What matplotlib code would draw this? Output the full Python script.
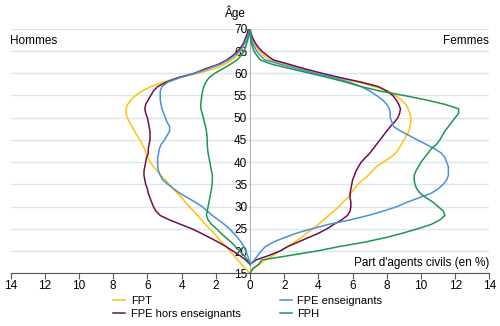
import matplotlib
matplotlib.use("Agg")
import matplotlib.pyplot as plt
import numpy as np

plt.rcParams['font.family'] = ['Liberation Sans', 'DejaVu Sans']

# ages 15 -> 70, part d'agents (en %), hommes en négatif
ages = list(range(15, 71))
nan = np.nan

fpt_h = [0, -0.25, -0.5, -0.72, -0.95, -1.17, -1.4, -1.65, -1.88, -2.1,
         -2.35, -2.6, -2.83, -3.07, -3.3, -3.55, -3.78, -4.0, -4.25, -4.5,
         -4.72, -4.95, -5.2, -5.42, -5.65, -5.85, -5.97, -6.07, -6.17, -6.3,
         -6.45, -6.6, -6.75, -6.9, -7.05, -7.18, -7.25, -7.25, -7.15, -6.95,
         -6.7, -6.3, -5.8, -5.1, -4.2, -3.05, -2.1, -1.5, -1.05, -0.75,
         -0.55, -0.4, -0.25, -0.15, -0.07, 0]
fpe_hors_h = [nan, nan, 0, -0.25, -0.6, -1.0, -1.4, -1.85, -2.35, -2.85,
              -3.4, -4.05, -4.7, -5.25, -5.5, -5.65, -5.75, -5.85, -5.95, -6.0,
              -6.1, -6.15, -6.2, -6.2, -6.15, -6.1, -6.05, -5.95, -5.95, -5.9,
              -5.85, -5.85, -5.85, -5.9, -5.95, -6.0, -6.1, -6.15, -6.1, -5.95,
              -5.8, -5.65, -5.4, -4.9, -4.2, -3.25, -2.6, -1.85, -1.35, -1.0,
              -0.7, -0.5, -0.35, -0.25, -0.15, -0.1]
fpe_ens_h = [nan, nan, 0, -0.06, -0.14, -0.24, -0.36, -0.52, -0.72, -0.95,
             -1.2, -1.5, -1.85, -2.2, -2.5, -2.8, -3.2, -3.65, -4.1, -4.45,
             -4.8, -5.1, -5.25, -5.35, -5.4, -5.4, -5.4, -5.35, -5.3, -5.2,
             -5.0, -4.85, -4.7, -4.7, -4.85, -4.95, -5.05, -5.15, -5.2, -5.25,
             -5.25, -5.25, -5.15, -4.8, -4.1, -3.2, -2.45, -1.75, -1.25, -0.9,
             -0.6, -0.42, -0.28, -0.17, -0.08, 0]
fph_h = [nan, nan, 0, -0.15, -0.35, -0.6, -0.85, -1.1, -1.4, -1.7,
         -1.95, -2.25, -2.45, -2.55, -2.5, -2.45, -2.4, -2.35, -2.3, -2.25,
         -2.22, -2.2, -2.2, -2.25, -2.3, -2.35, -2.4, -2.45, -2.48, -2.5,
         -2.5, -2.52, -2.55, -2.6, -2.67, -2.73, -2.8, -2.87, -2.88, -2.85,
         -2.82, -2.77, -2.7, -2.58, -2.4, -2.05, -1.6, -1.15, -0.75, -0.52,
         -0.35, -0.25, -0.17, -0.1, -0.05, 0]

fpt_f = [0, 0.2, 0.55, 0.9, 1.35, 1.75, 2.2, 2.6, 3.0, 3.3,
         3.7, 4.0, 4.3, 4.6, 4.9, 5.2, 5.45, 5.7, 5.9, 6.1,
         6.3, 6.6, 6.9, 7.15, 7.4, 7.8, 8.2, 8.5, 8.7, 8.85,
         9.0, 9.15, 9.3, 9.35, 9.4, 9.4, 9.35, 9.25, 9.1, 8.85,
         8.5, 8.1, 7.3, 6.3, 5.1, 4.0, 3.0, 2.1, 1.17, 0.8,
         0.55, 0.35, 0.2, 0.1, 0.04, 0]
fpe_hors_f = [nan, nan, 0, 0.35, 1.1, 1.75, 2.2, 2.8, 3.4, 4.0,
              4.5, 4.9, 5.35, 5.7, 5.85, 5.9, 5.9, 5.85, 5.85, 5.9,
              5.95, 6.0, 6.1, 6.2, 6.35, 6.5, 6.75, 7.0, 7.2, 7.4,
              7.6, 7.8, 8.0, 8.2, 8.45, 8.65, 8.75, 8.8, 8.7, 8.55,
              8.35, 8.0, 7.5, 6.5, 5.3, 4.2, 3.2, 2.3, 1.36, 1.0,
              0.68, 0.45, 0.28, 0.15, 0.06, 0]
fpe_ens_f = [nan, nan, 0, 0.25, 0.45, 0.65, 0.9, 1.35, 2.0, 2.7,
             3.6, 4.6, 5.85, 6.9, 7.8, 8.6, 9.2, 9.9, 10.6, 11.0,
             11.3, 11.5, 11.6, 11.6, 11.6, 11.5, 11.4, 11.2, 10.8, 10.3,
             9.8, 9.3, 8.8, 8.4, 8.3, 8.2, 8.2, 8.15, 8.0, 7.75,
             7.4, 7.0, 6.5, 5.8, 4.9, 3.8, 2.8, 1.8, 0.88, 0.6,
             0.39, 0.25, 0.14, 0.07, 0.03, 0]
fph_f = [0, 0.15, 0.5, 0.7, 2.3, 3.9, 5.2, 6.7, 7.9, 8.9,
         9.8, 10.6, 11.1, 11.4, 11.3, 11.0, 10.7, 10.3, 9.95, 9.75,
         9.65, 9.6, 9.6, 9.7, 9.85, 10.0, 10.2, 10.4, 10.6, 10.9,
         11.1, 11.25, 11.4, 11.6, 11.8, 12.0, 12.2, 12.2, 11.4, 10.3,
         9.0, 7.6, 6.5, 5.6, 4.6, 3.5, 2.4, 1.3, 0.6, 0.4,
         0.23, 0.14, 0.06, 0.03, 0.01, 0]

series = [
    ("FPT", fpt_h, fpt_f, "#FFC20E"),
    ("FPE hors enseignants", fpe_hors_h, fpe_hors_f, "#6E0F4C"),
    ("FPE enseignants", fpe_ens_h, fpe_ens_f, "#4A90D6"),
    ("FPH", fph_h, fph_f, "#1E9550"),
]

fig = plt.figure(figsize=(5.0, 3.26), dpi=100)
ax = fig.add_axes([0.0212, 0.1617, 0.9576, 0.75])

for nom, h, f, col in series:
    ax.plot(h, ages, color=col, lw=1.1, label=nom, zorder=3)
    ax.plot(f, ages, color=col, lw=1.1, zorder=3)

ax.set_xlim(-14, 14)
ax.set_ylim(15, 70)

xt = np.arange(-14, 15, 2)
ax.set_xticks(xt)
ax.set_xticklabels([str(abs(v)) for v in xt])
ax.tick_params(axis='x', direction='out', length=4, width=0.8, color='#555555',
               labelsize=8.5, pad=1)

ax.set_yticks(range(15, 71, 5))
ax.tick_params(axis='y', length=0, labelsize=8.5, pad=2)
ax.spines['left'].set_position(('data', 0))
ax.spines['left'].set_color('#b0b0b0')
ax.spines['left'].set_linewidth(0.8)
ax.spines['right'].set_visible(False)
ax.spines['top'].set_visible(False)
ax.spines['bottom'].set_color('#555555')
ax.spines['bottom'].set_linewidth(0.8)
ax.yaxis.grid(True, color='#d9e6f2', lw=1.0, zorder=0)
ax.set_axisbelow(True)

fig.text(235 / 500, 1 - 13 / 326, "Âge", ha='center', va='center', fontsize=8.5)
fig.text(10 / 500, 1 - 41 / 326, "Hommes", ha='left', va='center', fontsize=8.5)
fig.text(489 / 500, 1 - 41 / 326, "Femmes", ha='right', va='center', fontsize=8.5)
fig.text(489 / 500, 1 - 263 / 326, "Part d'agents civils (en %)", ha='right',
         va='center', fontsize=8.5)

fig.legend(loc='upper left', bbox_to_anchor=(113 / 500, 1 - 296 / 326), ncol=2,
           frameon=False, fontsize=8, handlelength=1.1, handletextpad=0.5,
           columnspacing=3.5, labelspacing=0.3, borderpad=0, borderaxespad=0)

fig.savefig("out.png", dpi=100)
